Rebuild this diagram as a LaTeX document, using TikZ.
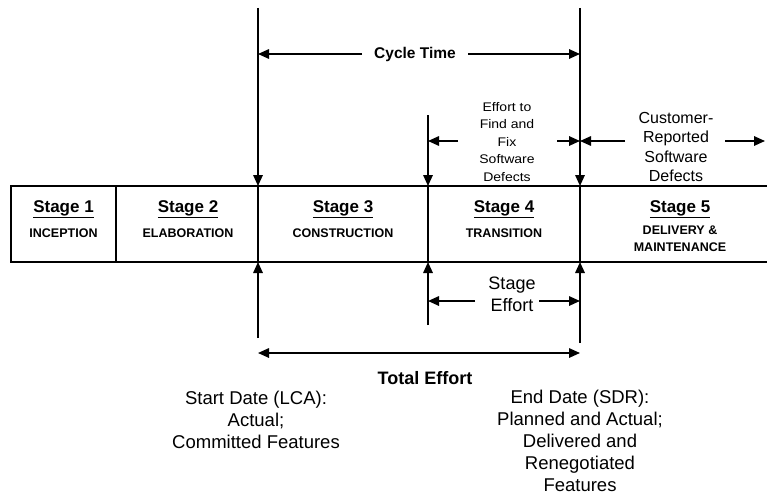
\documentclass[tikz,border=0pt]{standalone}
\usepackage{fontspec}
\setmainfont{Liberation Sans}
\usepackage{graphicx}
\usetikzlibrary{arrows.meta}

% horizontal stretch of a piece of text
\newcommand\hstretch[2]{\scalebox{#1}[1]{#2}}
% centred stack of lines
\newcommand\stack[1]{\begin{tabular}{@{}c@{}}#1\end{tabular}}

\begin{document}
\begin{tikzpicture}[x=1pt,y=-1pt,
  cell/.style={draw, line width=1.6pt, minimum height=76pt, inner sep=0pt,
               outer sep=0pt, anchor=north west},
  stagetitle/.style={font=\bfseries\fontsize{17}{19}\selectfont, inner sep=0pt, anchor=base},
  stagename/.style={font=\bfseries\fontsize{12.5}{16.5}\selectfont, inner sep=0pt, anchor=base},
  lbl/.style={inner sep=0pt},
  arr/.style={line width=1.6pt, -{Triangle[length=11pt,width=9.5pt]}},
  dblarr/.style={line width=1.6pt, {Triangle[length=11pt,width=9.5pt]}-{Triangle[length=11pt,width=9.5pt]}}]

\clip (0,0) rectangle (767,495);

% the five stage cells
\node[cell, minimum width=105pt] (s1) at (11,186) {};
\node[cell, minimum width=142pt] (s2) at (116,186) {};
\node[cell, minimum width=170pt] (s3) at (258,186) {};
\node[cell, minimum width=152pt] (s4) at (428,186) {};
\node[cell, minimum width=220pt] (s5) at (580,186) {};

% stage titles and names
\node[stagetitle] (t1) at (63.5,212) {\underline{Stage 1}};
\node[stagetitle] (t2) at (188,212) {\underline{Stage 2}};
\node[stagetitle] (t3) at (343,212) {\underline{Stage 3}};
\node[stagetitle] (t4) at (504,212) {\underline{Stage 4}};
\node[stagetitle] (t5) at (680,212) {\underline{Stage 5}};
\node[stagename] (n1) at (63.5,237) {INCEPTION};
\node[stagename] (n2) at (188,237) {ELABORATION};
\node[stagename] (n3) at (343,237) {CONSTRUCTION};
\node[stagename] (n4) at (504,237) {TRANSITION};
\node[stagename] (n5a) at (680,234) {DELIVERY \&};
\node[stagename] (n5b) at (680,251) {MAINTENANCE};

% end points of the vertical markers
\coordinate (ctop1) at (258,8);
\coordinate (ctop2) at (580,8);
\coordinate (eftop) at (428,115);
\coordinate (bot1) at (258,338);
\coordinate (bot2) at (428,325);
\coordinate (bot3) at (580,343);

\draw[arr] (ctop1) -- (s3.north west);
\draw[arr] (ctop2) -- (s5.north west);
\draw[arr] (eftop) -- (s4.north west);
\draw[arr] (bot1) -- (s3.south west);
\draw[arr] (bot2) -- (s4.south west);
\draw[arr] (bot3) -- (s5.south west);

% cycle time
\node[lbl, anchor=base, font=\bfseries\fontsize{15.5}{18}\selectfont] (ct) at (415,59) {Cycle Time};
\coordinate (cyL) at (362,54);
\coordinate (cyR) at (468,54);
\draw[arr] (cyL) -- (cyL -| ctop1);
\draw[arr] (cyR) -- (cyR -| ctop2);

% effort to find and fix defects
\node[lbl, font=\fontsize{12.5}{17.5}\selectfont] (ef) at (507,142.5)
  {\hstretch{1.12}{\stack{Effort to\\Find and\\Fix\\Software\\Defects}}};
\coordinate (efL) at (458,141);
\coordinate (efR) at (557,141);
\draw[arr] (efL) -- (efL -| eftop);
\draw[arr] (efR) -- (efR -| ctop2);

% customer-reported defects
\node[lbl, font=\fontsize{16}{19.6}\selectfont] (cu) at (676,148.5)
  {\stack{Customer-\\Reported\\Software\\Defects}};
\coordinate (cuL) at (625,141);
\coordinate (cuR) at (725,141);
\coordinate (cuEnd) at (765,141);
\draw[arr] (cuL) -- (cuL -| ctop2);
\draw[arr] (cuR) -- (cuEnd);

% stage effort
\node[lbl, font=\fontsize{18}{22}\selectfont] (se) at (512,296)
  {\stack{Stage\\Effort}};
\coordinate (seL) at (475,301);
\coordinate (seR) at (539,301);
\draw[arr] (seL) -- (seL -| bot2);
\draw[arr] (seR) -- (seR -| bot3);

% total effort
\coordinate (teL) at (258,353);
\coordinate (teR) at (580,353);
\draw[dblarr] (teL) -- (teR);
\node[lbl, anchor=base, font=\bfseries\fontsize{18}{22}\selectfont] (te) at (425,384) {Total Effort};

% start and end dates
\node[lbl, font=\fontsize{18.5}{22}\selectfont] (sd) at (256,422)
  {\stack{Start Date (LCA):\\Actual;\\Committed Features}};
\node[lbl, font=\fontsize{18.5}{22}\selectfont] (ed) at (580,443)
  {\stack{End Date (SDR):\\Planned and Actual;\\Delivered and\\Renegotiated\\Features}};

\end{tikzpicture}
\end{document}
